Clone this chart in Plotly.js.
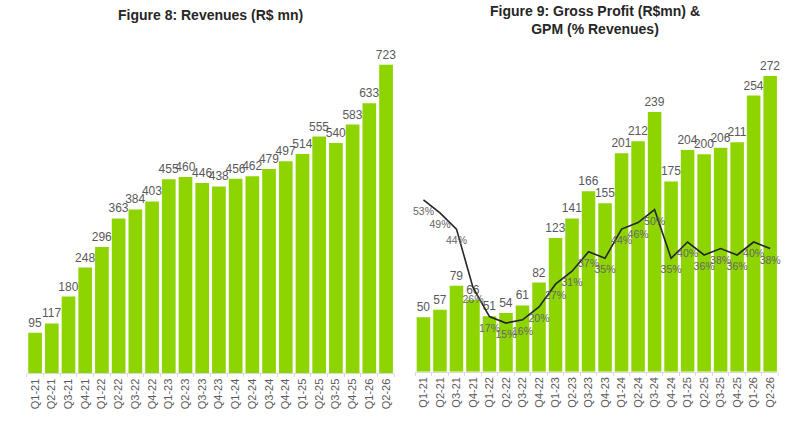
<!DOCTYPE html>
<html>
<head>
<meta charset="utf-8">
<script src="https://cdn.plot.ly/plotly-3.0.1.min.js"></script>
<style>html,body{margin:0;padding:0;background:#fff;}#chart{width:800px;height:423px;}</style>
</head>
<body>
<div id="chart"></div>
<script>
const quarters = ["Q1-21","Q2-21","Q3-21","Q4-21","Q1-22","Q2-22","Q3-22","Q4-22","Q1-23","Q2-23","Q3-23","Q4-23","Q1-24","Q2-24","Q3-24","Q4-24","Q1-25","Q2-25","Q3-25","Q4-25","Q1-26","Q2-26"];
const revenues = [95,117,180,248,296,363,384,403,455,460,446,438,456,462,479,497,514,555,540,583,633,723];
const grossProfit = [50,57,79,66,51,54,61,82,123,141,166,155,201,212,239,175,204,200,206,211,254,272];
const gpm = [53,49,44,26,17,15,16,20,27,31,37,35,44,46,50,35,40,36,38,36,40,38];

const FONT = "Liberation Sans, Arial, sans-serif";
const GREEN = "#8dd400";
const LABEL = "#595959";

const traces = [
  {type:"bar", x:quarters, y:revenues, xaxis:"x", yaxis:"y",
   marker:{color:GREEN}, text:revenues.map(String), textposition:"outside",
   textfont:{family:FONT,size:12,color:LABEL}, constraintext:"none", cliponaxis:false},
  {type:"bar", x:quarters, y:grossProfit, xaxis:"x2", yaxis:"y2",
   marker:{color:GREEN}, text:grossProfit.map(String), textposition:"outside",
   textfont:{family:FONT,size:12,color:LABEL}, constraintext:"none", cliponaxis:false},
  {type:"scatter", mode:"lines+markers+text", x:quarters, y:gpm, xaxis:"x2", yaxis:"y3",
   line:{color:"#262626",width:1.6}, marker:{size:10,color:"rgba(0,0,0,0)"},
   text:gpm.map(v=>v+"%"), textposition:"bottom center",
   textfont:{family:FONT,size:10.5,color:"#666666"}, cliponaxis:false}
];

const nCat = quarters.length;
const xcommon = {type:"category", range:[-0.5, nCat-0.5], autorange:false, showgrid:false, zeroline:false, showline:true, linecolor:"#d9d9d9", linewidth:1,
  ticks:"outside", tickson:"boundaries", ticklen:3, tickcolor:"#d9d9d9", tickangle:-90,
  tickfont:{family:FONT,size:11,color:LABEL}, fixedrange:true};
const ycommon = {visible:false, showgrid:false, zeroline:false, fixedrange:true};

const layout = {
  width:800, height:423, margin:{l:0,r:0,t:0,b:0},
  paper_bgcolor:"#fff", plot_bgcolor:"rgba(0,0,0,0)",
  showlegend:false, bargap:0.18, font:{family:FONT},
  xaxis:Object.assign({}, xcommon, {domain:[0.0334,0.493], anchor:"y"}),
  yaxis:Object.assign({}, ycommon, {domain:[0.1175,0.9243], range:[0,800], anchor:"x"}),
  xaxis2:Object.assign({}, xcommon, {domain:[0.519,0.973], anchor:"y2"}),
  yaxis2:Object.assign({}, ycommon, {domain:[0.1213,0.8922], range:[0,300], anchor:"x2"}),
  yaxis3:Object.assign({}, ycommon, {domain:[0.1213,0.8922], range:[0,100.6], overlaying:"y2", anchor:"x2"}),
  annotations:[
    {xref:"paper", yref:"paper", x:210/800, y:1-15/423, xanchor:"center", yanchor:"middle", showarrow:false,
     text:"<b>Figure 8: Revenues (R$ mn)</b>", font:{family:FONT,size:14,color:"#262626"}},
    {xref:"paper", yref:"paper", x:595/800, y:1-20/423, xanchor:"center", yanchor:"middle", showarrow:false,
     text:"<b>Figure 9: Gross Profit (R$mn) &<br>GPM (% Revenues)</b>", font:{family:FONT,size:14,color:"#262626"}}
  ]
};

Plotly.newPlot("chart", traces, layout, {displayModeBar:false, staticPlot:true});
</script>
</body>
</html>
